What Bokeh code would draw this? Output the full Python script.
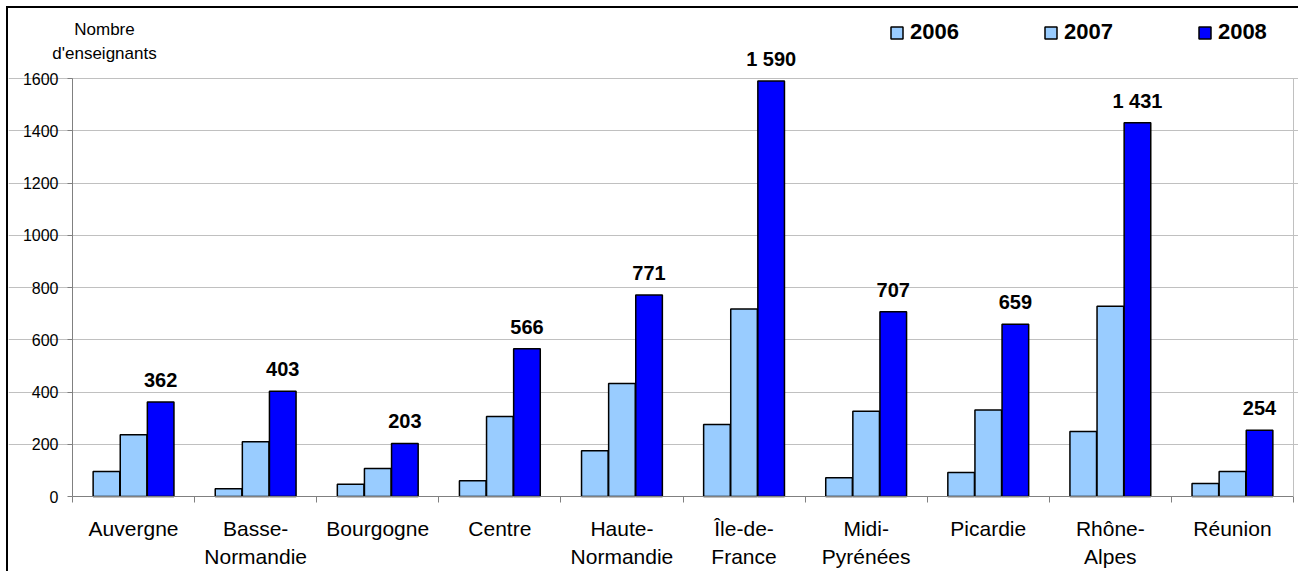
from bokeh.plotting import figure
from bokeh.models import (ColumnDataSource, Range1d, FixedTicker, LinearAxis,
                          Legend, LegendItem, LabelSet, Label)
from bokeh.core.properties import value
from bokeh.embed import file_html
from bokeh.resources import INLINE

regions = ["Auvergne", "Basse-\nNormandie", "Bourgogne", "Centre", "Haute-\nNormandie",
           "Île-de-\nFrance", "Midi-\nPyrénées", "Picardie", "Rhône-\nAlpes", "Réunion"]
years = ["2006", "2007", "2008"]
v2006 = [96, 30, 47, 60, 175, 276, 72, 92, 249, 50]
v2007 = [236, 210, 107, 306, 433, 718, 326, 331, 728, 96]
v2008 = [362, 403, 203, 566, 771, 1590, 707, 659, 1431, 254]
y_ticks = [0, 200, 400, 600, 800, 1000, 1200, 1400, 1600]
colors = ["#99CCFF", "#99CCFF", "#0000FF"]

FONT = "Liberation Sans"
n = len(regions)
bar_w = 0.218
offsets = [-0.222, 0.0, 0.222]
y_max = y_ticks[-1]

# canvas layout (pixels): plot area of the axes inside the full-canvas frame
W, H = 1292, 565
AX_L, AX_R, AX_B, AX_T = 64, 1285, 488, 70
sx = (AX_R - AX_L) / n
sy = (AX_B - AX_T) / y_max
x_rng = Range1d(-AX_L / sx, n + (W - AX_R) / sx)
y_rng = Range1d(-(H - AX_B) / sy, y_max + AX_T / sy)

p = figure(width=W, height=H, output_backend="svg", toolbar_location=None,
           x_range=x_rng, y_range=y_rng, x_axis_location=None, y_axis_location=None,
           title_location=None, min_border=0, min_border_left=0, min_border_right=0,
           min_border_top=0, min_border_bottom=0)
p.styles = {"margin-left": "6px", "margin-top": "6px",
            "border-left": "2px solid black", "border-top": "2px solid black"}
p.background_fill_color = "white"
p.border_fill_color = "white"
p.outline_line_color = None

# grid
p.ygrid.ticker = FixedTicker(ticks=y_ticks[1:])
p.ygrid.bounds = (0, n)
p.ygrid.grid_line_color = "#C0C0C0"
p.xgrid.grid_line_color = None

renderers = []
for vals, off, col in zip([v2006, v2007, v2008], offsets, colors):
    src = ColumnDataSource(dict(x=[i + 0.5 + off for i in range(n)], top=vals))
    r = p.vbar(x="x", top="top", width=bar_w, bottom=0, source=src,
               fill_color=col, line_color="black", line_width=1.5)
    renderers.append(r)

# value labels for 2008
lab_src = ColumnDataSource(dict(x=[i + 0.5 + offsets[2] for i in range(n)], y=v2008,
                                text=[f"{v:,}".replace(",", " ") for v in v2008]))
p.add_layout(LabelSet(x="x", y="y", text="text", source=lab_src, text_align="center",
                      text_baseline="alphabetic", y_offset=15, text_font=value(FONT),
                      text_font_size=value("20px"), text_font_style=value("bold"),
                      text_color="black"))

# axis title
p.add_layout(Label(x=0, y=y_max, x_offset=32, y_offset=15, text="Nombre\nd'enseignants",
                   text_align="center", text_baseline="bottom", text_font=FONT,
                   text_font_size="17px", text_color="black", text_line_height=1.3))

# legend
legend = Legend(items=[LegendItem(label=y, renderers=[r]) for y, r in zip(years, renderers)],
                orientation="horizontal", location=(881, 528), glyph_width=15, glyph_height=15,
                label_standoff=6, spacing=84, padding=0, margin=0,
                label_text_font=FONT, label_text_font_size="22px", label_text_font_style="bold",
                label_text_color="black",
                border_line_color=None, background_fill_alpha=0)
p.add_layout(legend)

# y axis
yax = LinearAxis(fixed_location=0, bounds=(0, y_max), ticker=FixedTicker(ticks=y_ticks))
yax.axis_line_color = "#808080"
yax.major_tick_line_color = "#808080"
yax.major_tick_out = 5
yax.major_tick_in = 0
yax.minor_tick_line_color = None
yax.major_label_text_font = FONT
yax.major_label_text_font_size = "16px"
yax.major_label_text_color = "black"
yax.major_label_standoff = 9
p.add_layout(yax, "left")

# right border of plot area
rax = LinearAxis(fixed_location=n, bounds=(0, y_max), ticker=FixedTicker(ticks=[]))
rax.axis_line_color = "#C0C0C0"
rax.major_tick_line_color = None
rax.minor_tick_line_color = None
rax.major_label_text_font_size = "0px"
p.add_layout(rax, "right")

# x axis
centers = [i + 0.5 for i in range(n)]
xax = LinearAxis(fixed_location=0, bounds=(0, n),
                 ticker=FixedTicker(ticks=centers, minor_ticks=list(range(n + 1))))
xax.major_label_overrides = {c: r for c, r in zip(centers, regions)}
xax.axis_line_color = "#808080"
xax.major_tick_line_color = None
xax.major_tick_out = 0
xax.major_tick_in = 0
xax.minor_tick_line_color = "#808080"
xax.minor_tick_out = 6
xax.minor_tick_in = 0
xax.major_label_text_font = FONT
xax.major_label_text_font_size = "21px"
xax.major_label_text_color = "black"
xax.major_label_text_line_height = 1.25
xax.major_label_standoff = 14
p.add_layout(xax, "below")

open("out.html", "w").write(file_html(p, INLINE))
